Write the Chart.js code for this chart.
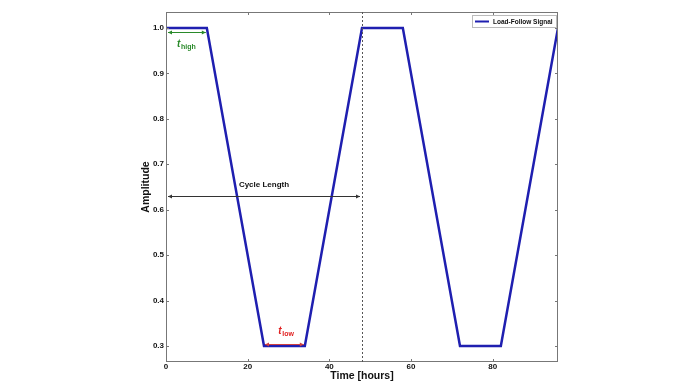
<!DOCTYPE html>
<html>
<head>
<meta charset="utf-8">
<script src="https://cdn.jsdelivr.net/npm/chart.js@4.4.0/dist/chart.umd.min.js"></script>
<style>
  html, body { margin: 0; padding: 0; background: #fff; }
  #wrap { width: 696px; height: 385px; }
</style>
</head>
<body>
<div id="wrap"><canvas id="signalChart"></canvas></div>
<script>
// load-follow signal, corner points (hours, amplitude)
const hours = [0, 10, 24, 34, 48, 58, 72, 82, 96];
const amplitude = [1.0, 1.0, 0.3, 0.3, 1.0, 1.0, 0.3, 0.3, 1.0];
const xTicks = [0, 20, 40, 60, 80];
const yTicks = [0.3, 0.4, 0.5, 0.6, 0.7, 0.8, 0.9, 1.0];

// annotations: [x0, x1, y]
const cycleArrow = [0, 48, 0.63];
const highArrow = [0, 10, 0.99];
const lowArrow = [24, 34, 0.305];
const cycleLine = 48;

const tickFont = { family: 'Liberation Sans', size: 8, weight: 'bold' };

function arrow(ctx, x0, x1, y, color) {
  ctx.save();
  ctx.strokeStyle = color;
  ctx.fillStyle = color;
  ctx.lineWidth = 1;
  ctx.beginPath();
  ctx.moveTo(x0, y);
  ctx.lineTo(x1, y);
  ctx.stroke();
  [[x0, 1], [x1, -1]].forEach(([x, d]) => {
    ctx.beginPath();
    ctx.moveTo(x, y);
    ctx.lineTo(x + d * 4, y - 2);
    ctx.lineTo(x + d * 4, y + 2);
    ctx.closePath();
    ctx.fill();
  });
  ctx.restore();
}

const annotations = {
  id: 'annotations',
  afterDatasetsDraw(chart) {
    const { ctx, chartArea: a, scales: { x, y } } = chart;
    ctx.save();
    // frame
    ctx.strokeStyle = '#777';
    ctx.lineWidth = 1;
    ctx.strokeRect(a.left + 0.5, a.top + 0.5, a.width - 1, a.height - 1);
    // inward ticks on all sides
    ctx.beginPath();
    xTicks.forEach(v => {
      const px = Math.round(x.getPixelForValue(v)) + 0.5;
      ctx.moveTo(px, a.bottom); ctx.lineTo(px, a.bottom - 3);
      ctx.moveTo(px, a.top); ctx.lineTo(px, a.top + 3);
    });
    yTicks.forEach(v => {
      const py = Math.round(y.getPixelForValue(v)) + 0.5;
      ctx.moveTo(a.left, py); ctx.lineTo(a.left + 3, py);
      ctx.moveTo(a.right, py); ctx.lineTo(a.right - 3, py);
    });
    ctx.stroke();

    // dashed cycle boundary
    const cx = Math.round(x.getPixelForValue(cycleLine)) + 0.5;
    ctx.strokeStyle = '#555';
    ctx.setLineDash([2, 2]);
    ctx.beginPath();
    ctx.moveTo(cx, a.top);
    ctx.lineTo(cx, a.bottom);
    ctx.stroke();
    ctx.setLineDash([]);

    // arrows
    arrow(ctx, x.getPixelForValue(cycleArrow[0]) + 2, x.getPixelForValue(cycleArrow[1]) - 2,
      Math.round(y.getPixelForValue(cycleArrow[2])) + 0.5, '#333');
    arrow(ctx, x.getPixelForValue(highArrow[0]) + 2, x.getPixelForValue(highArrow[1]) - 1,
      Math.round(y.getPixelForValue(highArrow[2])) + 0.5, '#2a8a2a');
    arrow(ctx, x.getPixelForValue(lowArrow[0]) + 1, x.getPixelForValue(lowArrow[1]) - 1,
      Math.round(y.getPixelForValue(lowArrow[2])) + 0.5, '#d04040');

    // labels
    ctx.textBaseline = 'alphabetic';
    ctx.textAlign = 'center';
    ctx.fillStyle = '#111';
    ctx.font = 'bold 8px "Liberation Sans"';
    ctx.fillText('Cycle Length', x.getPixelForValue(24), y.getPixelForValue(0.63) - 9);

    ctx.textAlign = 'left';
    ctx.fillStyle = '#2a8a2a';
    ctx.font = 'italic bold 10px "Liberation Sans"';
    let lx = x.getPixelForValue(2.7), ly = y.getPixelForValue(0.959);
    ctx.fillText('t', lx, ly);
    ctx.font = 'bold 7px "Liberation Sans"';
    ctx.fillText('high', lx + 4, ly + 2);

    ctx.fillStyle = '#e02020';
    ctx.font = 'italic bold 10px "Liberation Sans"';
    lx = x.getPixelForValue(27.5); ly = y.getPixelForValue(0.326);
    ctx.fillText('t', lx, ly);
    ctx.font = 'bold 7px "Liberation Sans"';
    ctx.fillText('low', lx + 4, ly + 2);

    // legend box
    const bx = a.right - 86, by = a.top + 3;
    ctx.fillStyle = '#fff';
    ctx.fillRect(bx, by, 84, 12);
    ctx.strokeStyle = '#bbb';
    ctx.strokeRect(bx + 0.5, by + 0.5, 84, 12);
    ctx.strokeStyle = '#1f1fb0';
    ctx.lineWidth = 2;
    ctx.beginPath();
    ctx.moveTo(bx + 3, by + 6.5);
    ctx.lineTo(bx + 17, by + 6.5);
    ctx.stroke();
    ctx.fillStyle = '#111';
    ctx.font = 'bold 6.5px "Liberation Sans"';
    ctx.textBaseline = 'middle';
    ctx.fillText('Load-Follow Signal', bx + 21, by + 7);
    ctx.restore();
  }
};

const ctx = document.getElementById('signalChart').getContext('2d');

const chart = new Chart(ctx, {
  type: 'line',
  data: {
    datasets: [{
      label: 'Load-Follow Signal',
      data: hours.map((h, i) => ({ x: h, y: amplitude[i] })),
      borderColor: '#1f1fb0',
      borderWidth: 2.5,
      pointRadius: 0,
      fill: false,
      tension: 0
    }]
  },
  options: {
    responsive: true,
    maintainAspectRatio: false,
    animation: false,
    layout: { padding: { left: 140, right: 138, top: 12, bottom: 3 } },
    plugins: {
      legend: { display: false },
      tooltip: { enabled: false }
    },
    scales: {
      x: {
        type: 'linear',
        min: 0,
        max: 96,
        afterBuildTicks: s => { s.ticks = xTicks.map(v => ({ value: v })); },
        afterFit: s => { s.height = 20; },
        grid: { display: false, drawTicks: false },
        border: { display: false },
        ticks: { font: tickFont, color: '#111', padding: 0, maxRotation: 0 },
        title: {
          display: true,
          text: 'Time [hours]',
          font: { family: 'Liberation Sans', size: 10.5, weight: 'bold' },
          color: '#111',
          padding: 0
        }
      },
      y: {
        type: 'linear',
        min: 0.265,
        max: 1.035,
        afterBuildTicks: s => { s.ticks = yTicks.map(v => ({ value: v })); },
        afterFit: s => { s.width = 26; },
        grid: { display: false, drawTicks: false },
        border: { display: false },
        ticks: {
          font: tickFont,
          color: '#111',
          padding: 2,
          callback: v => v.toFixed(1)
        },
        title: {
          display: true,
          text: 'Amplitude',
          font: { family: 'Liberation Sans', size: 10.5, weight: 'bold' },
          color: '#111',
          padding: 0
        }
      }
    }
  },
  plugins: [annotations]
});
</script>
</body>
</html>
